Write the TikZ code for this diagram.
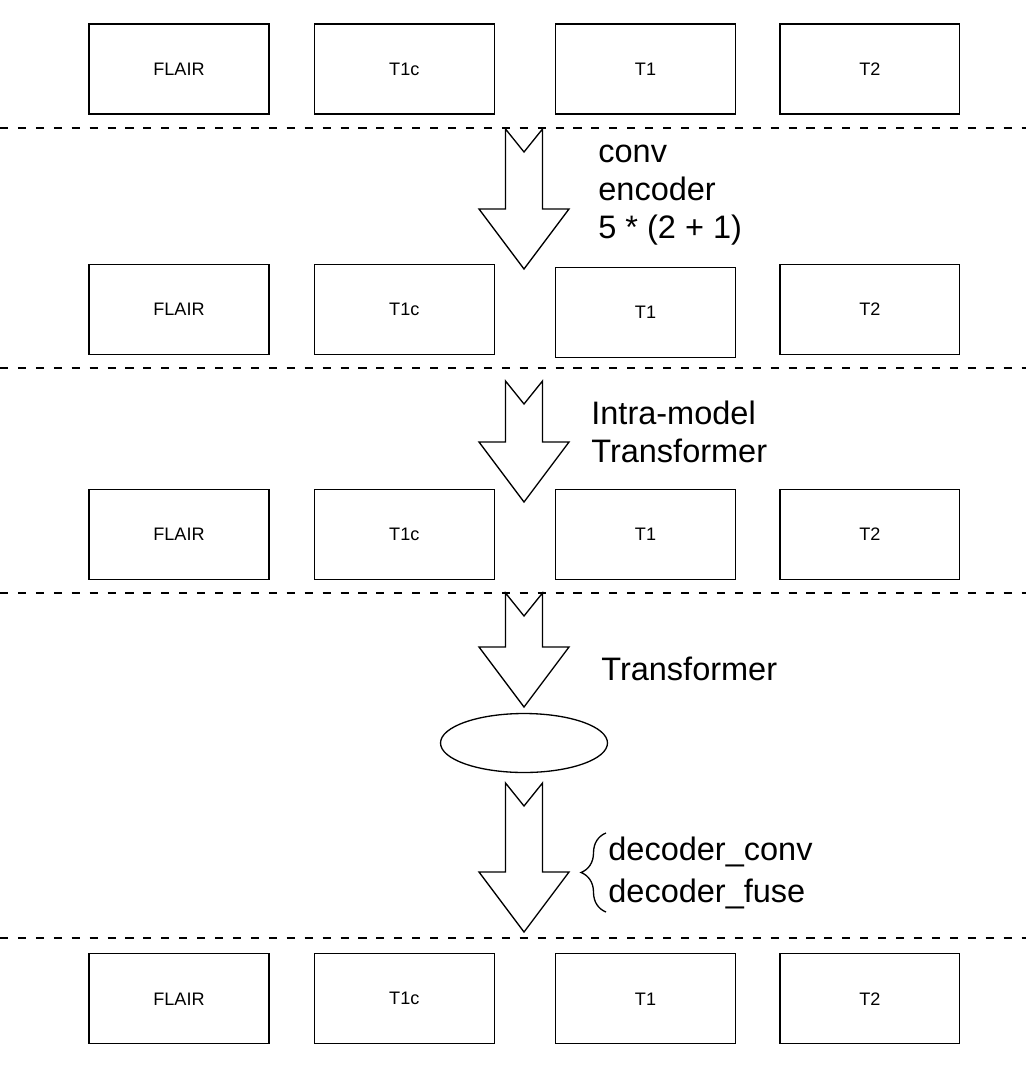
\documentclass[tikz,border=0pt]{standalone}
\usepackage{fontspec}
\setmainfont{Liberation Sans}
\usepackage{tikz}
\usetikzlibrary{positioning,calc,shapes.geometric,decorations.pathreplacing}
\tikzset{
  modbox/.style={draw,line width=0.75pt,minimum width=3.6cm,minimum height=1.8cm,
    inner sep=0pt,font=\fontsize{10.3}{12}\selectfont},
  sepline/.style={line width=1.4pt,dash pattern=on 4.6pt off 5.6pt},
  fatline/.style={draw,line width=0.75pt,fill=white,line join=miter},
  steplbl/.style={align=left,inner sep=0pt,anchor=base west,
    font=\fontsize{18.5}{21.6}\selectfont},
}
% block arrow from top (notched tail) to tip
\newcommand{\fatarrow}[2]{%
  \draw[fatline] ($(#1)+(-18.5,0)$) -- ($(#1)+(0,23)$) -- ($(#1)+(18.5,0)$)
    -- ($(#2)+(18.5,-60)$) -- ($(#2)+(45,-60)$) -- (#2)
    -- ($(#2)+(-45,-60)$) -- ($(#2)+(-18.5,-60)$) -- cycle;}

\begin{document}
\begin{tikzpicture}[x=0.02cm,y=-0.02cm]
\useasboundingbox (0,0) rectangle (1026,1082);

% input modalities
\node[modbox] (flairA) at (179,69) {FLAIR};
\node[modbox,right=0.88cm of flairA] (tonecA) {T1c};
\node[modbox,right=1.2cm of tonecA] (toneA) {T1};
\node[modbox,right=0.86cm of toneA] (ttwoA) {T2};

% after conv encoder
\node[modbox,below=2.98cm of flairA] (flairB) {FLAIR};
\node[modbox,right=0.88cm of flairB] (tonecB) {T1c};
\node[modbox,right=1.2cm of tonecB,yshift=-1.7pt] (toneB) {T1};
\node[modbox,right=0.86cm of toneB,yshift=1.7pt] (ttwoB) {T2};

% after intra-model transformer
\node[modbox,below=2.68cm of flairB] (flairC) {FLAIR};
\node[modbox,right=0.88cm of flairC] (tonecC) {T1c};
\node[modbox,right=1.2cm of tonecC] (toneC) {T1};
\node[modbox,right=0.86cm of toneC] (ttwoC) {T2};

% output
\node[modbox,below=7.46cm of flairC] (flairD) {FLAIR};
\node[modbox,right=0.88cm of flairD] (tonecD) {T1c};
\node[modbox,right=1.2cm of tonecD] (toneD) {T1};
\node[modbox,right=0.86cm of toneD] (ttwoD) {T2};

% stage separators
\draw[sepline] (0,128) -- (1026,128);
\draw[sepline] (0,368) -- (1026,368);
\draw[sepline] (0,593) -- (1026,593);
\draw[sepline] (0,938) -- (1026,938);

\node[ellipse,draw,line width=0.75pt,minimum width=3.34cm,minimum height=1.18cm] (fused) at (524,743) {};

\coordinate (encTop) at (524,129);
\coordinate (encTip) at (524,269);
\coordinate (intraTop) at (524,381);
\coordinate (intraTip) at (524,502);
\coordinate (transTop) at (524,593);
\coordinate (transTip) at (524,707);
\coordinate (decTop) at (524,783);
\coordinate (decTip) at (524,932);

\fatarrow{encTop}{encTip}
\fatarrow{intraTop}{intraTip}
\fatarrow{transTop}{transTip}
\fatarrow{decTop}{decTip}

% labels (base = last line)
\node[steplbl] (encLbl) at (598,238) {conv\\encoder\\5 * (2 + 1)};
\node[steplbl] (intraLbl) at (591,462) {Intra-model\\Transformer};
\node[steplbl] (transLbl) at (601,680) {Transformer};
\node[steplbl,font=\fontsize{18.5}{23.9}\selectfont] (decLbl) at (608,902) {decoder\_conv\\decoder\_fuse};

\draw[line width=0.75pt,decorate,decoration={brace,amplitude=0.5cm}]
  (606,912) -- (606,833);

\end{tikzpicture}
\end{document}
